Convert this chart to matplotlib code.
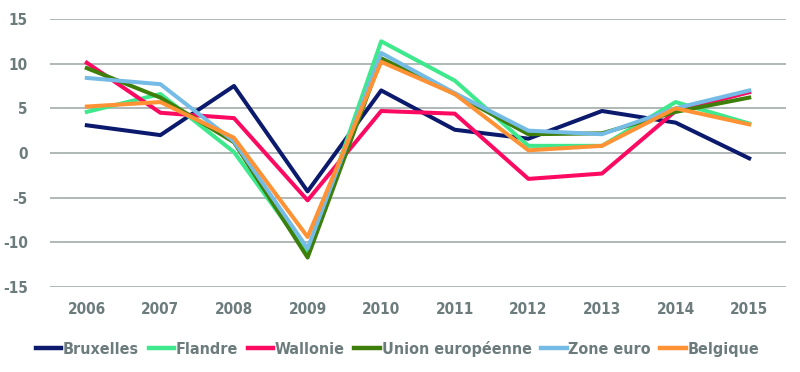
import matplotlib
matplotlib.use("Agg")
import matplotlib.pyplot as plt

years = ["2006", "2007", "2008", "2009", "2010", "2011", "2012", "2013", "2014", "2015"]
bruxelles = [3.1, 2.0, 7.5, -4.3, 7.0, 2.6, 1.6, 4.7, 3.4, -0.6]
flandre = [4.6, 6.6, 0.1, -11.2, 12.5, 8.1, 0.8, 0.8, 5.7, 3.3]
wallonie = [10.1, 4.5, 3.9, -5.3, 4.7, 4.4, -2.9, -2.3, 4.7, 6.8]
union_eu = [9.5, 6.2, 1.2, -11.7, 10.6, 6.6, 2.1, 2.2, 4.6, 6.2]
zone_euro = [8.4, 7.7, 1.3, -10.7, 11.2, 6.7, 2.5, 2.1, 5.0, 7.0]
belgique = [5.2, 5.7, 1.7, -9.4, 10.2, 6.6, 0.3, 0.8, 5.0, 3.2]

series = [
    ("Bruxelles", bruxelles, "#0b1a6c"),
    ("Flandre", flandre, "#3ee88c"),
    ("Wallonie", wallonie, "#fc0a62"),
    ("Union européenne", union_eu, "#3e7f0c"),
    ("Zone euro", zone_euro, "#74bce6"),
    ("Belgique", belgique, "#ff9234"),
]

plt.rcParams['font.family'] = ['DejaVu Sans']
plt.rcParams['font.stretch'] = 'condensed'
plt.rcParams['axes.unicode_minus'] = False
text_color = "#6c7b7c"

fig = plt.figure(figsize=(8, 3.72), dpi=100)
ax = fig.add_axes([0.0625, 0.2285, 0.92, 0.7205])

x = range(len(years))
for name, vals, color in series:
    ax.plot(x, vals, color=color, linewidth=2.9, label=name)

ax.set_xlim(-0.5, len(years) - 0.5)
ax.set_ylim(-15, 15)
ax.set_yticks(range(-15, 16, 5))
ax.set_xticks(list(x))
ax.set_xticklabels(years)
ax.grid(True, axis='y', color="#a3abab", linewidth=1.2)
ax.set_axisbelow(True)
for s in ax.spines.values():
    s.set_visible(False)
ax.tick_params(length=0, colors=text_color, labelsize=11)
ax.tick_params(axis='x', pad=11)
ax.tick_params(axis='y', pad=16)
for lbl in ax.get_xticklabels() + ax.get_yticklabels():
    lbl.set_fontweight('bold')

leg = fig.legend(loc='center', bbox_to_anchor=(0.497, 0.062), ncol=6, frameon=False,
                 handlelength=1.6, handletextpad=0.1, columnspacing=0.6,
                 prop={'size': 11.5, 'weight': 'bold', 'stretch': 'condensed'})
for t in leg.get_texts():
    t.set_color(text_color)
for h in leg.legend_handles:
    h.set_linewidth(3.2)

fig.savefig("out.png", dpi=100)
